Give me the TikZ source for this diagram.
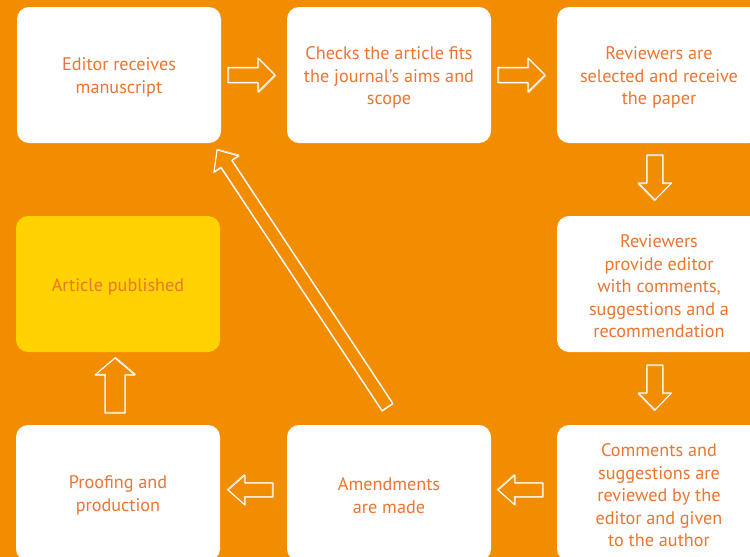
\documentclass[tikz,border=0pt]{standalone}
\usepackage{fontspec}
\setmainfont{PT Sans}
\usetikzlibrary{calc}
\definecolor{bgorange}{HTML}{F28C00}
\definecolor{txtorange}{HTML}{EC7530}
\definecolor{pubyellow}{HTML}{FFD200}
\tikzset{
  box/.style={rectangle, rounded corners=12pt, fill=white, minimum width=204pt,
    minimum height=136pt, inner sep=0pt},
  pubbox/.style={box, fill=pubyellow},
  lbl/.style={align=center, text=txtorange, inner sep=0pt,
    font=\fontsize{18.2}{22.5}\selectfont},
  arrowline/.style={draw=white, line width=1.1pt, line join=round},
  arrowsketch/.style={draw=white, line width=0.5pt, line join=round, opacity=0.85},
  pics/blockarrow/.style n args={4}{code={
    \path[arrowline] (#1/2,0) -- (#1/2-#2,#4) -- (#1/2-#2,#3) -- (-#1/2,#3)
      -- (-#1/2,-#3) -- (#1/2-#2,-#3) -- (#1/2-#2,-#4) -- cycle;
    \path[arrowsketch, shift={(0.8,0.7)}] (#1/2,0) -- (#1/2-#2,#4) -- (#1/2-#2,#3) -- (-#1/2,#3)
      -- (-#1/2,-#3) -- (#1/2-#2,-#3) -- (#1/2-#2,-#4) -- cycle;
  }}
}
\begin{document}
\begin{tikzpicture}[x=1pt,y=-1pt]
\fill[bgorange] (0,0) rectangle (750,557);
\useasboundingbox (0,0) rectangle (750,557);
\clip (0,0) rectangle (750,557);

\node[box] (b1) at (119,75) {};
\node[box] (b2) at (389,75) {};
\node[box] (b3) at (659,75) {};
\node[pubbox] (b4) at (118,284) {};
\node[box] (b5) at (659,284) {};
\node[box] (b6) at (118,493) {};
\node[box] (b7) at (389,493) {};
\node[box] (b8) at (659,493) {};

\node[lbl] (t1) at ($(b1.center)+(0,2.5)$) {Editor receives\\manuscript};
\node[lbl] (t2) at ($(b2.center)+(0,2.5)$) {Checks the article fits\\the journal's aims and\\scope};
\node[lbl] (t3) at ($(b3.center)+(0,2.5)$) {Reviewers are\\selected and receive\\the paper};
\node[lbl] (t4) at ($(b4.center)+(0,2.5)$) {Article published};
\node[lbl] (t5) at ($(b5.center)+(0,2.5)$) {Reviewers\\provide editor\\with comments,\\suggestions and a\\recommendation};
\node[lbl] (t6) at ($(b6.center)+(0,2.5)$) {Proofing and\\production};
\node[lbl] (t7) at ($(b7.center)+(0,2.5)$) {Amendments\\are made};
\node[lbl] (t8) at ($(b8.center)+(0,2.5)$) {Comments and\\suggestions are\\reviewed by the\\editor and given\\to the author};

\pic at ($(b1.east)!0.5!(b2.west)+(-2.5,0)$) {blockarrow={47}{17}{7.5}{17}};
\pic at ($(b2.east)!0.5!(b3.west)+(-2.5,0)$) {blockarrow={47}{17}{7.5}{17}};
\pic[rotate=-90] at ($(b3.south)!0.5!(b5.north)+(-4,-2)$) {blockarrow={45}{17}{8}{16.5}};
\pic[rotate=-90] at ($(b5.south)!0.5!(b8.north)+(-4,-1)$) {blockarrow={45}{17}{8}{16.5}};
\pic[rotate=180] at ($(b8.west)!0.5!(b7.east)+(-3.5,-3)$) {blockarrow={45}{17}{7}{15}};
\pic[rotate=180] at ($(b7.west)!0.5!(b6.east)+(-3,-3)$) {blockarrow={45}{17}{7}{15}};
\pic[rotate=90] at ($(b6.north)!0.5!(b4.south)+(-3,-3)$) {blockarrow={55}{17}{10}{20}};

\coordinate (dtail) at (387.5,407.5);
\coordinate (dtip) at (217,150);
\pic[rotate=123.5] at ($(dtail)!0.5!(dtip)$) {blockarrow={308.8}{17}{6.5}{15}};
\end{tikzpicture}
\end{document}
